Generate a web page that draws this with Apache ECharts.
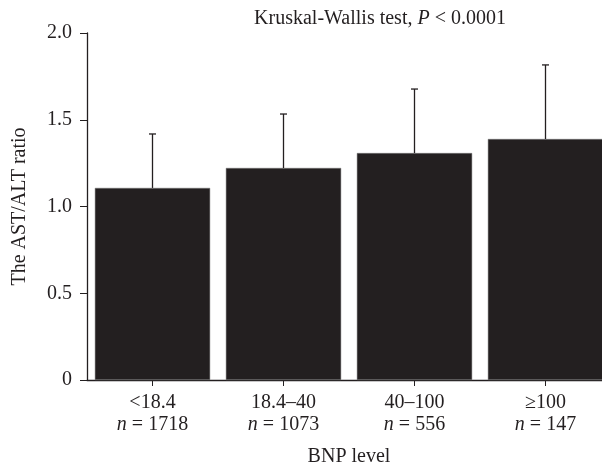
<!DOCTYPE html>
<html><head><meta charset="utf-8">
<script src="https://cdn.jsdelivr.net/npm/echarts@6/dist/echarts.min.js"></script>
<style>html,body{margin:0;padding:0;background:#fff}#c{width:602px;height:468px}</style>
</head><body><div id="c"></div>
<script>
var categories = ['<18.4', '18.4\u201340', '40\u2013100', '\u2265100'];
var counts = [1718, 1073, 556, 147];
var means = [1.107, 1.222, 1.308, 1.389];
var errUpper = [1.418, 1.533, 1.677, 1.816];
var yTicks = [0, 0.5, 1.0, 1.5, 2.0];

var FONT = '"Liberation Serif", "DejaVu Serif", serif';
var FS = 20;
var chart = echarts.init(document.getElementById('c'));
chart.setOption({
  animation: false,
  backgroundColor: '#fff',
  title: {
    text: '{a|Kruskal-Wallis test, }{i|P}{a| < 0.0001}',
    left: 375, top: 4, textAlign: 'center',
    textStyle: { fontWeight: 'normal', rich: {
      a: { fontFamily: FONT, fontSize: FS, fontWeight: 'normal', color: '#231f20' },
      i: { fontFamily: FONT, fontSize: FS, fontWeight: 'normal', fontStyle: 'italic', color: '#231f20' }
    } }
  },
  grid: { left: 87, top: 33, right: -9, height: 347, containLabel: false, outerBoundsMode: 'none' },
  xAxis: {
    type: 'category', data: categories,
    axisLine: { show: true, lineStyle: { color: '#231f20', width: 1.3 } },
    axisTick: { show: true, alignWithLabel: true, length: 6, lineStyle: { color: '#231f20' } },
    axisLabel: {
      interval: 0, margin: 12, color: '#231f20', fontFamily: FONT, fontSize: FS, lineHeight: 22,
      formatter: function (v, i) { return '{t|' + v + '}\n{i|n}{t| = ' + counts[i] + '}'; },
      rich: {
        t: { fontFamily: FONT, fontSize: FS, color: '#231f20', lineHeight: 22 },
        i: { fontFamily: FONT, fontSize: FS, fontStyle: 'italic', color: '#231f20', lineHeight: 22 }
      }
    },
    name: 'BNP level', nameLocation: 'middle', nameGap: 67,
    nameTextStyle: { fontFamily: FONT, fontSize: FS, color: '#231f20' }
  },
  yAxis: {
    type: 'value', min: 0, max: 2, interval: 0.5,
    axisLine: { show: true, lineStyle: { color: '#231f20', width: 1.3 } },
    axisTick: { show: true, length: 7, lineStyle: { color: '#231f20' } },
    splitLine: { show: false },
    axisLabel: {
      margin: 15, color: '#231f20', fontFamily: FONT, fontSize: FS,
      formatter: function (v) { return v === 0 ? '0' : v.toFixed(1); }
    },
    name: 'The AST/ALT ratio', nameLocation: 'middle', nameGap: 57, nameRotate: 90,
    nameTextStyle: { fontFamily: FONT, fontSize: FS, color: '#231f20' }
  },
  series: [
    {
      type: 'bar', data: means, barCategoryGap: '12%',
      itemStyle: { color: '#231f20', borderColor: '#777', borderWidth: 0.5 },
      z: 2
    },
    {
      type: 'custom', z: 3,
      data: means.map(function (m, i) { return [i, m, errUpper[i]]; }),
      renderItem: function (params, api) {
        var lo = api.coord([api.value(0), api.value(1)]);
        var hi = api.coord([api.value(0), api.value(2)]);
        var cap = 3.5;
        return {
          type: 'group', children: [
            { type: 'line', shape: { x1: hi[0], y1: lo[1], x2: hi[0], y2: hi[1] }, style: { stroke: '#231f20', lineWidth: 1.3 } },
            { type: 'line', shape: { x1: hi[0] - cap, y1: hi[1], x2: hi[0] + cap, y2: hi[1] }, style: { stroke: '#231f20', lineWidth: 1.3 } }
          ]
        };
      }
    }
  ]
});
</script></body></html>
